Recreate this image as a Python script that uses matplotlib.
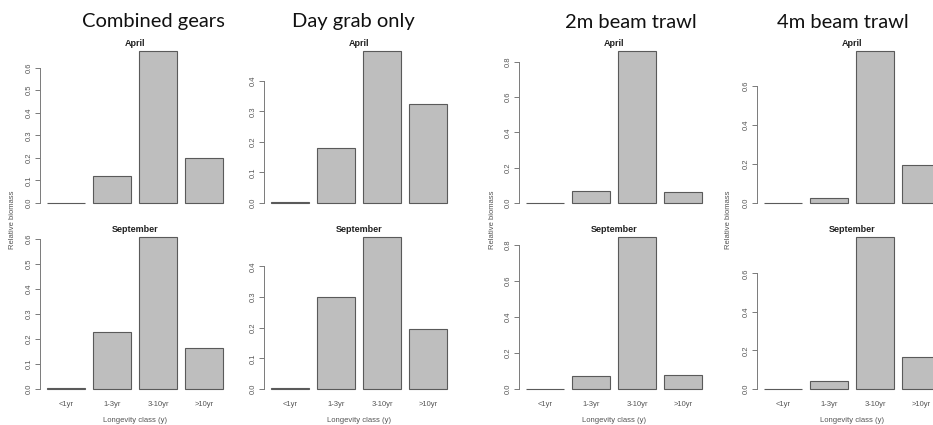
import numpy as np
import matplotlib
matplotlib.use("Agg")
import matplotlib.pyplot as plt

# Relative biomass by longevity class, per sampling gear and month
classes = ["<1yr", "1-3yr", "3-10yr", ">10yr"]
gears = ["Combined gears", "Day grab only", "2m beam trawl", "4m beam trawl"]

combined_april = [0.001, 0.121, 0.674, 0.200]
combined_september = [0.005, 0.227, 0.608, 0.164]
daygrab_april = [0.002, 0.179, 0.498, 0.324]
daygrab_september = [0.004, 0.300, 0.496, 0.197]
beam2m_april = [0.001, 0.066, 0.862, 0.064]
beam2m_september = [0.002, 0.072, 0.844, 0.076]
beam4m_april = [0.001, 0.027, 0.777, 0.196]
beam4m_september = [0.002, 0.043, 0.788, 0.168]

months = ["April", "September"]
series = [
    [combined_april, combined_september],
    [daygrab_april, daygrab_september],
    [beam2m_april, beam2m_september],
    [beam4m_april, beam4m_september],
]

W, H = 933, 425
fig = plt.figure(figsize=(W / 100, H / 100), dpi=100)
fig.patch.set_facecolor("white")

LABEL_FONT = ["Liberation Sans", "DejaVu Sans"]
TITLE_FONT = ["Lato", "DejaVu Sans"]
AXIS_GREY = "#7a7a7a"
TEXT_GREY = "#555555"


def pretty_step(hi, n=5):
    """R-style 'pretty' step size for a range 0..hi."""
    cell = hi / n
    u = 10 ** np.floor(np.log10(cell))
    step = u
    if 2 * u - cell < 1.5 * (cell - u):
        step = 2 * u
        if 5 * u - cell < 1.5 * (cell - 2 * u):
            step = 5 * u
            if 10 * u - cell < 1.5 * (cell - 5 * u):
                step = 10 * u
    return step


# panel geometry in pixels (left edge of the plot region for each gear column)
col_left = [40, 264, 519, 757]
px_per_unit = 38.3
xlim = (0.016, 4.984)
ax_w = (xlim[1] - xlim[0]) * px_per_unit
# pixel rows of the zero line and of the tallest bar top
row_zero = [203, 389]
row_top = [51, 237]

bar_x = 0.2 + np.arange(4) * 1.2 + 0.5

for gi, gear in enumerate(gears):
    left = col_left[gi]
    for mi, month in enumerate(months):
        vals = np.array(series[gi][mi])
        m = vals.max()
        span = row_zero[mi] - row_top[mi]
        top_px = row_top[mi] - 0.04 * span
        bot_px = row_zero[mi] + 0.04 * span
        ax = fig.add_axes([left / W, 1 - bot_px / H, ax_w / W, (bot_px - top_px) / H])
        ax.set_xlim(*xlim)
        ax.set_ylim(-0.04 * m, 1.04 * m)
        ax.patch.set_alpha(0)
        ax.bar(bar_x, vals, width=1.0, color="#bebebe", edgecolor="#5a5a5a",
               linewidth=0.8)
        step = pretty_step(m)
        ticks = np.arange(0, m + 1e-9, step)
        ax.set_yticks(ticks)
        ax.set_yticklabels([f"{t:.1f}" for t in ticks], rotation=90, va="center",
                           fontsize=5.5, color=TEXT_GREY, family=LABEL_FONT)
        ax.tick_params(axis="y", length=3.5, width=0.7, color=AXIS_GREY, pad=2)
        for s in ("top", "right", "bottom"):
            ax.spines[s].set_visible(False)
        ax.spines["left"].set_color(AXIS_GREY)
        ax.spines["left"].set_linewidth(0.7)
        ax.spines["left"].set_bounds(0, ticks[-1])
        if mi == 1:
            ax.set_xticks(bar_x)
            ax.set_xticklabels(classes, fontsize=5.5, color=TEXT_GREY, family=LABEL_FONT)
            ax.tick_params(axis="x", length=0, pad=4)
        else:
            ax.set_xticks([])
        # month heading
        cx = (left + ax_w / 2) / W
        ty = row_top[mi] - 7
        fig.text(cx, 1 - ty / H, month, ha="center", va="center", fontsize=6.5,
                 fontweight="bold", color="#222222", family=LABEL_FONT)
    # x-axis title for the lower plot
    fig.text((left + ax_w / 2) / W, 1 - 420 / H, "Longevity class (y)", ha="center",
             va="center", fontsize=5.5, color=TEXT_GREY, family=LABEL_FONT)

# gear headings
gear_cx = [153, 353, 631, 843]
for gi, gear in enumerate(gears):
    fig.text(gear_cx[gi] / W, 1 - 22 / H, gear, ha="center", va="center",
             fontsize=14.5, color="#111111", family=TITLE_FONT)

# y-axis titles
for x_px in (13, 493, 729):
    fig.text(x_px / W, 1 - 220 / H, "Relative biomass", rotation=90, ha="center",
             va="center", fontsize=5.5, color=TEXT_GREY, family=LABEL_FONT)

fig.savefig("out.png", dpi=100)
